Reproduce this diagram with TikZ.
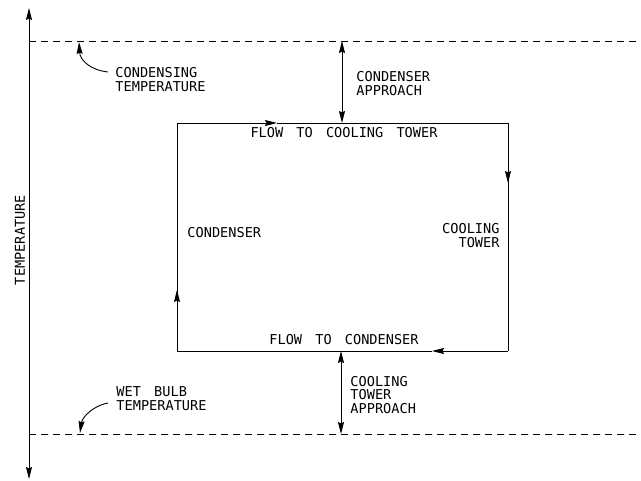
\documentclass[tikz,border=0pt]{standalone}
\usepackage{fontspec}
\setmonofont{DejaVu Sans Mono}
\usetikzlibrary{arrows.meta}

\begin{document}
\begin{tikzpicture}[
x=1pt,y=-1pt,
line width=0.9pt,
tip/.style={-{Stealth[length=12pt,width=6pt,inset=1.5pt]}},
both/.style={{Stealth[length=12pt,width=6pt,inset=1.5pt]}-{Stealth[length=12pt,width=6pt,inset=1.5pt]}},
level/.style={dash pattern=on 7pt off 5pt},
every node/.style={font=\ttfamily\fontsize{13.6}{14}\selectfont,inner sep=0pt,align=left}
]
\useasboundingbox (0,0) rectangle (641,481);
% axis
\coordinate (axtop) at (29,8);
\coordinate (axbot) at (29,479);
\draw[both] (axbot) -- (axtop);
\node[rotate=90] (temp) at (20,240) {TEMPERATURE};
% temperature levels
\coordinate (condL) at (29,41);
\coordinate (condR) at (641,41);
\coordinate (wetL) at (29,434);
\coordinate (wetR) at (641,434);
\draw[level] (condL) -- (condR);
\draw[level] (wetL) -- (wetR);
% loop
\coordinate (tl) at (177,123);
\coordinate (tr) at (508,123);
\coordinate (br) at (508,351);
\coordinate (bl) at (177,351);
\coordinate (topmid) at (277,123);
\coordinate (rightmid) at (508,183);
\coordinate (botmid) at (432,351);
\coordinate (leftmid) at (177,290);
\draw[tip] (tl) -- (topmid);
\draw (topmid) -- (tr) -- (rightmid);
\draw[tip] (tr) -- (rightmid);
\draw (rightmid) -- (br);
\draw[tip] (br) -- (botmid);
\draw (botmid) -- (bl) -- (leftmid);
\draw[tip] (bl) -- (leftmid);
\draw (leftmid) -- (tl);
\node[anchor=base] (flowct) at (344,138) {FLOW\hspace{5pt} TO\hspace{5pt} COOLING\hspace{5pt} TOWER};
\node[anchor=base] (flowcd) at (344,345) {FLOW\hspace{5pt} TO\hspace{5pt} CONDENSER};
\node[anchor=base west] (cond) at (187,238) {CONDENSER};
\node[anchor=base east,align=right] (ct) at (500,248) {COOLING\\TOWER};
% approaches
\coordinate (ca1) at (342,41);
\coordinate (ca2) at (342,123);
\draw[both] (ca1) -- (ca2);
\node[anchor=base west] (capp) at (356,96) {CONDENSER\\APPROACH};
\coordinate (ta1) at (341,351);
\coordinate (ta2) at (341,434);
\draw[both] (ta1) -- (ta2);
\node[anchor=base west] (tapp) at (350,414) {COOLING\\TOWER\\APPROACH};
% leaders
\node[anchor=base west] (condtemp) at (115,92) {CONDENSING\\TEMPERATURE};
\coordinate (ctip) at (79,42);
\draw[tip] (108,72) .. controls (90,70) and (80,60) .. (ctip);
\node[anchor=base west] (wettemp) at (116,411) {WET\hspace{5pt} BULB\\TEMPERATURE};
\coordinate (wtip) at (80,433);
\draw[tip] (108,403) .. controls (92,406) and (82,418) .. (wtip);
\end{tikzpicture}
\end{document}
